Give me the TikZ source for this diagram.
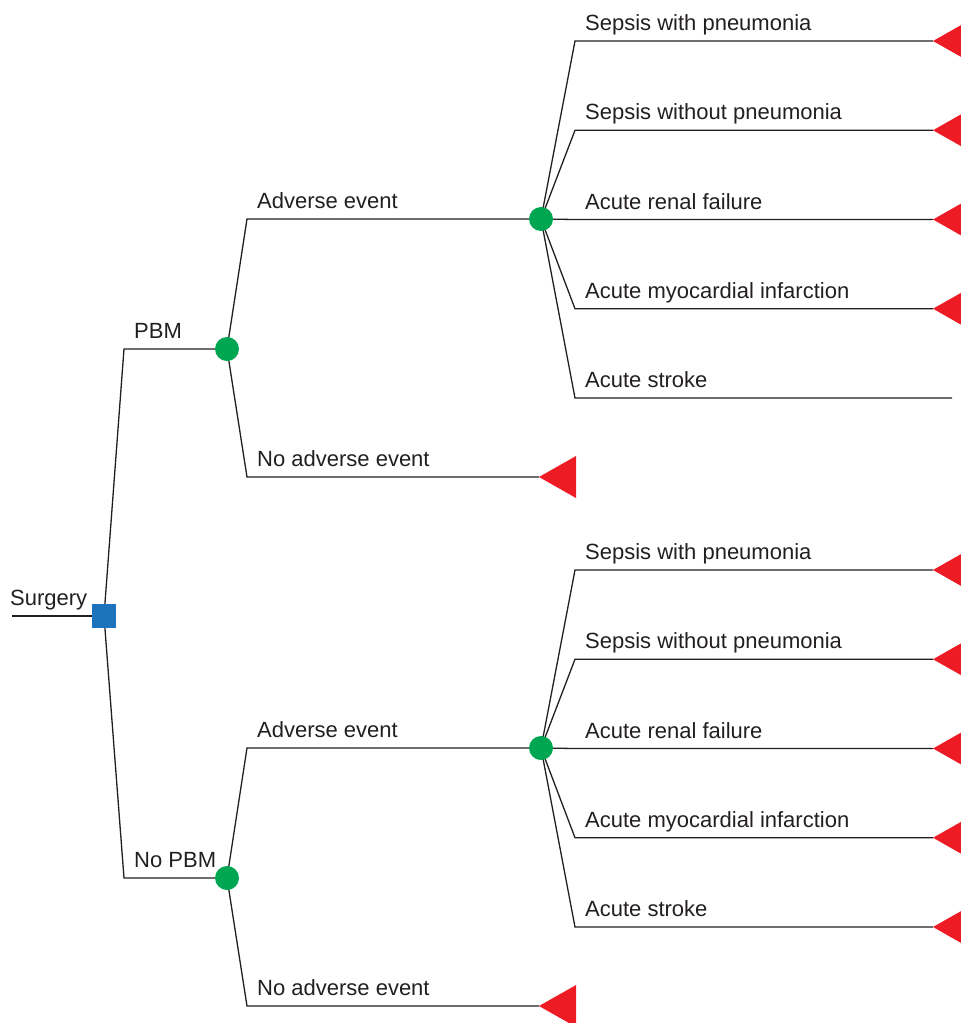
\documentclass[tikz,border=0pt]{standalone}
\usepackage{fontspec}
\setmainfont{Liberation Sans}
\usetikzlibrary{backgrounds,calc}
\definecolor{ink}{HTML}{231F20}
\definecolor{dgreen}{HTML}{00A651}
\definecolor{dred}{HTML}{ED1C24}
\definecolor{dblue}{HTML}{1C75BC}
\begin{document}
\begin{tikzpicture}[x=1pt,y=-1pt,
  edge/.style={draw=ink, line width=1.3pt},
  chance/.style={circle, fill=dgreen, minimum size=24pt, inner sep=0pt},
  decision/.style={rectangle, fill=dblue, minimum size=24pt, inner sep=0pt},
  lbl/.style={anchor=base west, text=ink, font=\fontsize{22}{26}\selectfont, inner sep=0pt},
  term/.style={fill=dred}]
\useasboundingbox (0,0) rectangle (961,1023);
\clip (0,0) rectangle (961,1023);

\coordinate (start) at (12,616);
\node[decision] (s) at (104,616) {};
\node[lbl] (surg) at (10,605.5) {Surgery};
\begin{pgfonlayer}{background}
  \draw[edge] (start) -- (s.center);
\end{pgfonlayer}

\foreach \dy/\k/\lab in {0/a/PBM, 529/b/No PBM} {
  \coordinate (k\k) at (124,349+\dy);
  \node[chance] (c\k) at (227,349+\dy) {};
  \node[lbl] (l\k) at (134,338.5+\dy) {\lab};
  \coordinate (u\k) at (247,219+\dy);
  \node[chance] (e\k) at (541,219+\dy) {};
  \node[lbl] (la\k) at (257,208.5+\dy) {Adverse event};
  \coordinate (d\k) at (247,477+\dy);
  \coordinate (n\k) at (539,477+\dy);
  \node[lbl] (ln\k) at (257,466.5+\dy) {No adverse event};
  \fill[term] (n\k) -- ++(37,-21) -- ++(0,42) -- cycle;
  \begin{pgfonlayer}{background}
    \draw[edge] (s.center) -- (k\k) -- (c\k.center);
    \draw[edge] (c\k.center) -- (u\k) -- (e\k.center);
    \draw[edge] (c\k.center) -- (d\k) -- (n\k);
  \end{pgfonlayer}
  \foreach \i/\txt in {0/Sepsis with pneumonia, 1/Sepsis without pneumonia, 2/Acute renal failure, 3/Acute myocardial infarction, 4/Acute stroke} {
    \coordinate (b\k\i) at (575,41+89.25*\i+\dy);
    \node[lbl] (t\k\i) at (585,30.5+89.25*\i+\dy) {\txt};
  }
}

% outcome endings
\foreach \k/\i/\ex in {a/0/933, a/1/933, a/2/933, a/3/933, a/4/952, b/0/933, b/1/933, b/2/933, b/3/933, b/4/933} {
  \coordinate (f\k\i) at ($(b\k\i)+(\ex-575,0)$);
}
\foreach \k/\i in {a/0, a/1, a/2, a/3, b/0, b/1, b/2, b/3, b/4} {
  \fill[term] (f\k\i) -- ++(37,-21) -- ++(0,42) -- cycle;
}
\begin{pgfonlayer}{background}
  \foreach \k in {a,b} {
    \foreach \i in {0,...,4} {
      \draw[edge] (e\k.center) -- (b\k\i) -- (f\k\i);
    }
  }
\end{pgfonlayer}
\end{tikzpicture}
\end{document}
